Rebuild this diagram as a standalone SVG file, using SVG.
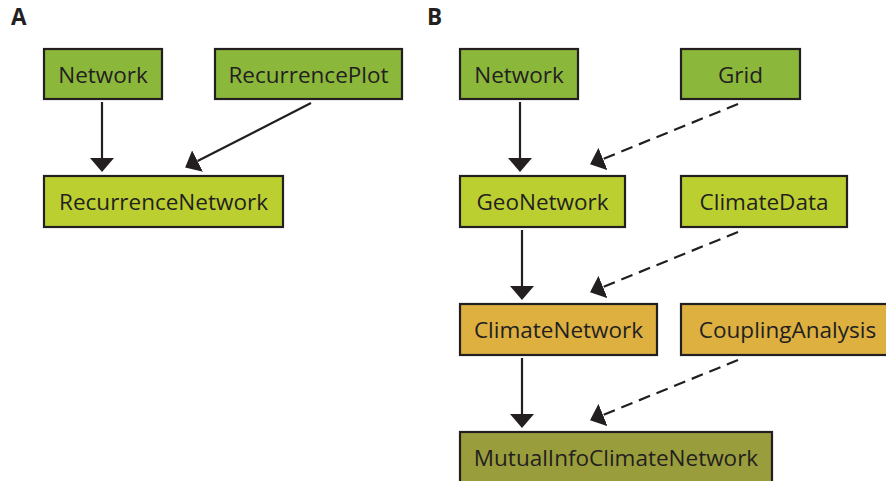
<svg xmlns="http://www.w3.org/2000/svg" width="886" height="481" viewBox="0 0 886 481">
<style>
  .box rect { stroke: #231f20; stroke-width: 2.2; }
  .g1 rect { fill: #8bb73b; }
  .g2 rect { fill: #bccf31; }
  .g3 rect { fill: #ddb040; }
  .g4 rect { fill: #9a9d3b; }
  text { font-family: "Open Sans", "Noto Sans", "Liberation Sans", sans-serif; font-size: 22.5px; fill: #231f20; text-anchor: middle; }
  .panel { font-family: "Open Sans", "Liberation Sans", sans-serif; font-weight: bold; font-size: 22.5px; text-anchor: start; }
  .edge { stroke: #231f20; stroke-width: 2.2; fill: none; marker-end: url(#ah); }
  .dash { stroke-dasharray: 12 7; }
</style>
<defs>
  <marker id="ah" viewBox="0 0 14 24" refX="0" refY="12" markerWidth="14" markerHeight="24" markerUnits="userSpaceOnUse" orient="auto">
    <path d="M0,0 L14,12 L0,24 Z" fill="#231f20"/>
  </marker>
</defs>
<rect width="886" height="481" fill="#ffffff"/>
<text class="panel" x="11" y="25">A</text>
<text class="panel" x="427" y="25">B</text>

<g id="edges">
  <path class="edge" d="M102,102 L102,158"/>
  <path class="edge" d="M311,103 L197.6,161.1"/>
  <path class="edge" d="M520,102 L520,158"/>
  <path class="edge dash" d="M738,104 L603,159"/>
  <path class="edge" d="M522,230 L522,286"/>
  <path class="edge dash" d="M738,232 L603,287"/>
  <path class="edge" d="M522,358 L522,414"/>
  <path class="edge dash" d="M738,360 L603,415"/>
</g>

<g id="a-network" class="box g1"><rect x="44" y="49" width="118" height="50"/><text x="103" y="83">Network</text></g>
<g id="a-recurrenceplot" class="box g1"><rect x="215" y="49" width="187" height="50"/><text x="308.5" y="83">RecurrencePlot</text></g>
<g id="a-recurrencenetwork" class="box g2"><rect x="44" y="176" width="239" height="51"/><text x="163.5" y="210">RecurrenceNetwork</text></g>

<g id="b-network" class="box g1"><rect x="460" y="49" width="118" height="50"/><text x="519" y="83">Network</text></g>
<g id="b-grid" class="box g1"><rect x="681" y="49" width="119" height="50"/><text x="740.5" y="83">Grid</text></g>
<g id="b-geonetwork" class="box g2"><rect x="460" y="176" width="165" height="51"/><text x="542.5" y="210">GeoNetwork</text></g>
<g id="b-climatedata" class="box g2"><rect x="681" y="176" width="166" height="51"/><text x="764" y="210">ClimateData</text></g>
<g id="b-climatenetwork" class="box g3"><rect x="460" y="304" width="197" height="51"/><text x="558.5" y="338">ClimateNetwork</text></g>
<g id="b-couplinganalysis" class="box g3"><rect x="681" y="304" width="213" height="51"/><text x="787.5" y="338">CouplingAnalysis</text></g>
<g id="b-mutualinfo" class="box g4"><rect x="460" y="432" width="312" height="52"/><text x="616" y="466">MutualInfoClimateNetwork</text></g>
</svg>
